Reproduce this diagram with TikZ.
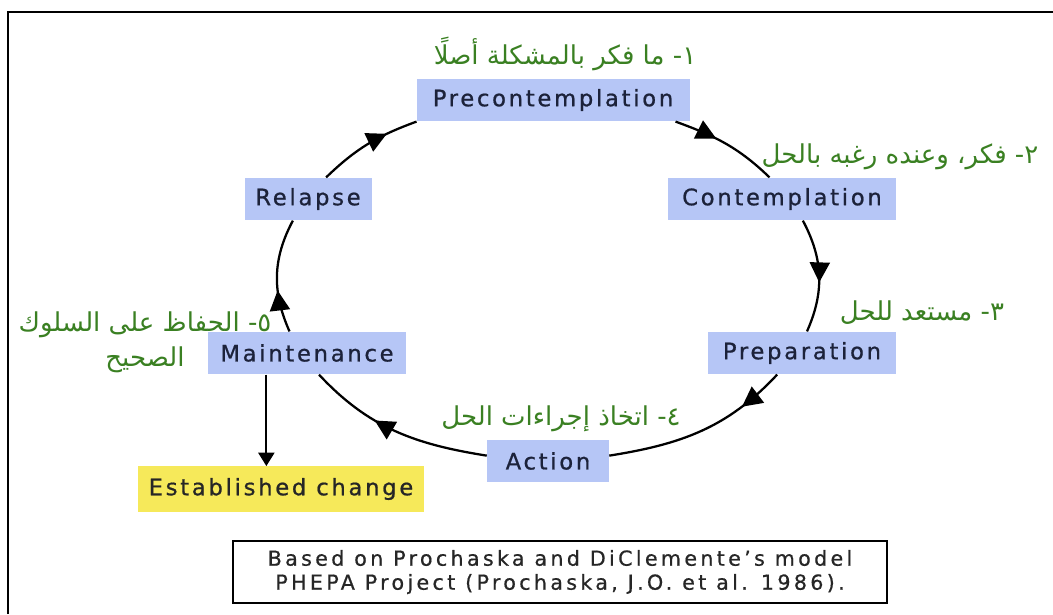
\documentclass[tikz,border=0pt]{standalone}
\usepackage{fontspec}
\usetikzlibrary{arrows.meta,decorations.markings}
\TeXXeTstate=1
\newfontfamily\stagefont{DejaVu Sans}[LetterSpace=12,FakeBold=0.8]
\newfontfamily\citefont{DejaVu Sans}[LetterSpace=16,FakeBold=0.6]
\newfontfamily\arabicfont[Script=Arabic]{DejaVu Sans}
\definecolor{stageblue}{RGB}{182,198,246}
\definecolor{stageink}{RGB}{28,34,58}
\definecolor{changeyellow}{RGB}{246,233,90}
\definecolor{notegreen}{RGB}{58,128,34}
\newcommand{\arline}[1]{\beginR #1\endR}

\begin{document}
\begin{tikzpicture}[x=0.75pt,y=0.75pt,
  stage/.style={fill=stageblue, text=stageink, inner xsep=0pt, minimum height=32pt,
    font=\stagefont\fontsize{17}{20}\selectfont},
  note/.style={text=notegreen, font=\arabicfont\fontsize{19.5}{24}\selectfont},
  stageflow/.style={line width=1.7pt, postaction={decorate},
    decoration={markings, mark=at position #1 with {\arrow{Triangle[length=15pt,width=15pt]}}}}]
\useasboundingbox (0,0) rectangle (1053,614);
\draw[line width=1.5pt] (8,0) -- (8,602) -- (1053,602);
\node[stage, minimum width=204.75pt] (pre) at (553,514) {Precontemplation};
\node[stage, minimum width=171pt] (con) at (782,415) {Contemplation};
\node[stage, minimum width=141pt] (prep) at (802,261) {Preparation};
\node[stage, minimum width=91.5pt] (act) at (548,153) {Action};
\node[stage, minimum width=148.5pt] (main) at (307,261) {Maintenance};
\node[stage, minimum width=95.25pt] (rel) at (308,415) {Relapse};
\node[stage, fill=changeyellow, text=black!85, minimum width=214.5pt, minimum height=34pt] (est) at (281,125) {Established change};
\node[note] (n1) at (565,560) {\arline{١- ما فكر بالمشكلة أصلًا}};
\node[note] (n2) at (900,457) {\arline{٢- فكر، وعنده رغبه بالحل}};
\node[note] (n3) at (922,301) {\arline{٣- مستعد للحل}};
\node[note] (n4) at (561,195) {\arline{٤- اتخاذ إجراءات الحل}};
\node[note, align=center] (n5) at (145,272) {\arline{٥- الحفاظ على السلوك}\\[2pt] \arline{الصحيح}};
\node[draw, line width=1.5pt, fill=white, text=black!85, minimum width=490.5pt, minimum height=46.5pt,
  align=center, font=\citefont\fontsize{15.5}{18}\selectfont] (cite) at (560,42)
  {Based on Prochaska and DiClemente’s model\\PHEPA Project (Prochaska, J.O. et al. 1986).};
\draw[stageflow=0.4] (pre.-10) to[out=-20,in=136] (con.120);
\draw[stageflow=0.56] (con.-46) to[out=-62,in=66] (prep.77);
\draw[stageflow=0.25] (prep.221) to[out=227,in=9] (act.5);
\draw[stageflow=0.62] (act.175) to[out=171,in=-47] (main.-61);
\draw[stageflow=0.37] (main.129) to[out=114,in=242] (rel.235);
\draw[stageflow=0.7] (rel.50) to[out=44,in=200] (pre.189);
\draw[line width=1.5pt, -{Triangle[length=10pt,width=12pt]}] (main.-152) -- (main.-152 |- est.north);
\end{tikzpicture}
\end{document}
